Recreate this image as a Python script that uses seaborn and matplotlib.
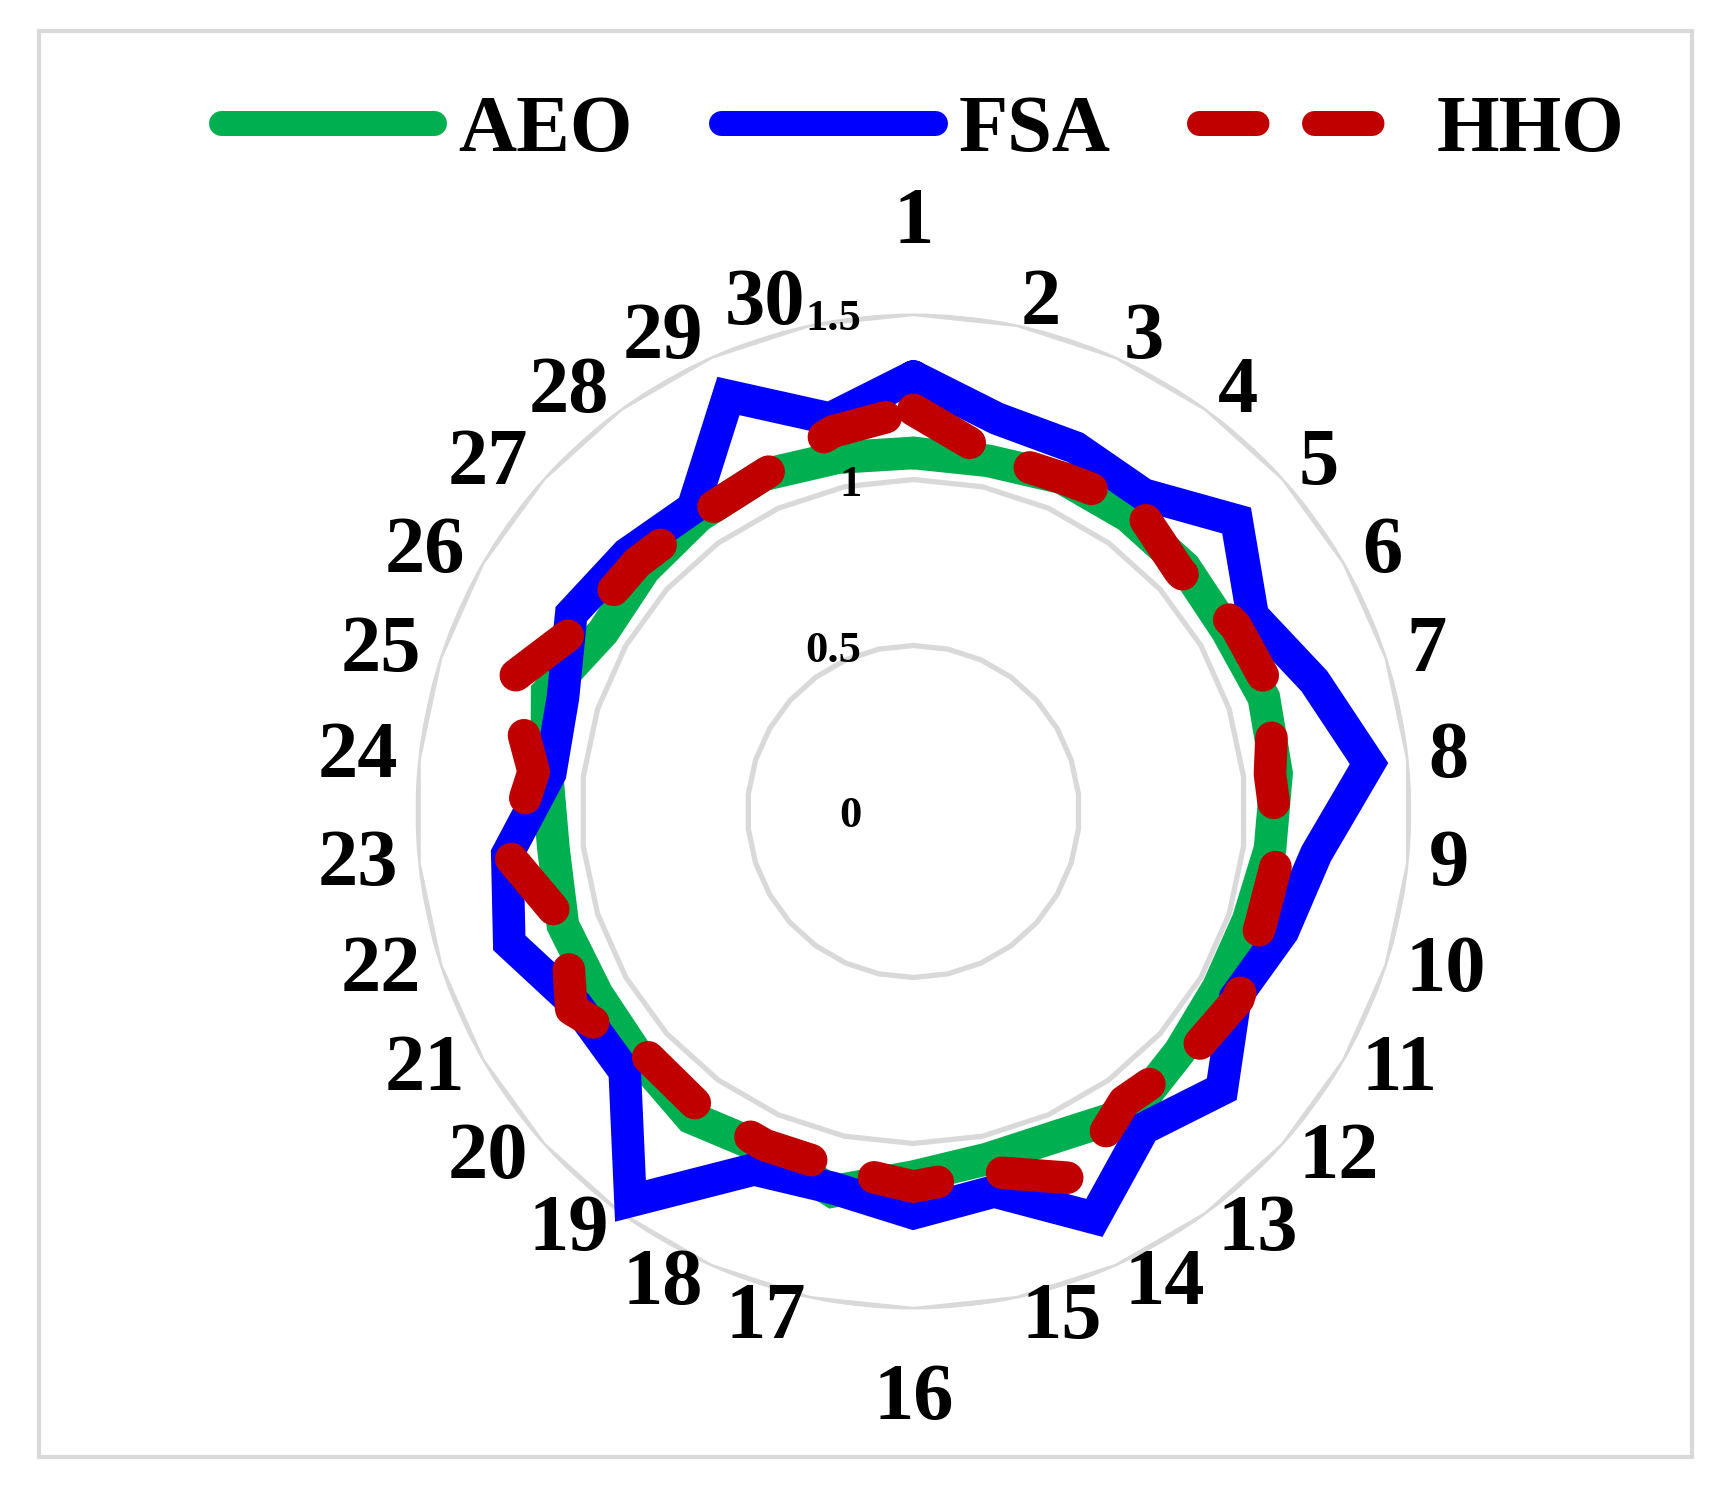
import numpy as np
import pandas as pd
import seaborn as sns
import matplotlib.pyplot as plt
from matplotlib.lines import Line2D
from matplotlib.patches import Rectangle
from matplotlib.transforms import offset_copy

# data (30 runs)
categories = [str(i) for i in range(1, 31)]
aeo = [1.08, 1.08, 1.10, 1.10, 1.10, 1.09, 1.11, 1.10, 1.08, 1.06,
       1.06, 1.08, 1.12, 1.07, 1.07, 1.10, 1.17, 1.11, 1.14, 1.11,
       1.10, 1.11, 1.09, 1.11, 1.16, 1.08, 1.09, 1.10, 1.11, 1.09]
fsa = [1.31, 1.21, 1.20, 1.18, 1.31, 1.18, 1.27, 1.38, 1.22, 1.17,
       1.12, 1.25, 1.18, 1.34, 1.17, 1.21, 1.16, 1.18, 1.45, 1.17,
       1.17, 1.28, 1.23, 1.10, 1.11, 1.19, 1.16, 1.13, 1.37, 1.21]
hho = [1.21, 1.10, 1.10, 1.14, 1.08, 1.12, 1.14, 1.08, 1.11, 1.10,
       1.13, 1.11, 1.08, 1.21, 1.11, 1.13, 1.10, 1.10, 1.10, 1.09,
       1.19, 1.10, 1.23, 1.15, 1.28, 1.14, 1.12, 1.10, 1.11, 1.17]
r_ticks = [0, 0.5, 1, 1.5]
r_tick_labels = ['0', '0.5', '1', '1.5']

names = ['AEO', 'FSA', 'HHO']
colors = ['#00B050', '#0000FF', '#C00000']
styles = ['-', '-', (0, (2, 2))]
grid_color = '#D9D9D9'

sns.set_theme(style='white')
plt.rcParams['font.family'] = ['Liberation Serif', 'DejaVu Serif']
plt.rcParams['font.weight'] = 'bold'
plt.rcParams['text.color'] = 'black'

fig = plt.figure(figsize=(17.36, 14.92), dpi=100)
ax = fig.add_axes([0.2393, 0.1223, 0.5737, 0.6676], projection='polar')
ax.set_theta_zero_location('N')
ax.set_theta_direction(-1)

n = len(categories)
angles = np.linspace(0, 2 * np.pi, n, endpoint=False)
closed = np.append(angles, 2 * np.pi)

# polygon grid instead of circles
for rt in r_ticks[1:]:
    ax.plot(closed, [rt] * (n + 1), color=grid_color, lw=3.8, zorder=1)

for name, vals, c, ls in zip(names, [aeo, fsa, hho], colors, styles):
    df = pd.DataFrame({'theta': closed, 'value': list(vals) + [vals[0]]})
    sns.lineplot(data=df, x='theta', y='value', ax=ax, color=c, lw=23.5,
                 linestyle=ls, sort=False, estimator=None,
                 dash_capstyle='round', solid_joinstyle='miter',
                 clip_on=False, zorder=3)

ax.set_ylim(0, 1.5)
ax.grid(False)
ax.spines['polar'].set_visible(False)
ax.set_xticks([])
ax.set_yticks([])
ax.set_xlabel('')
ax.set_ylabel('')

# category labels around the outside
for ang, lab in zip(angles, categories):
    s = np.sin(ang)
    if abs(s) < 0.1:
        ax.text(ang, 1.77, lab, ha='center', va='center', fontsize=58,
                fontweight='bold', color='black')
    else:
        ax.text(ang, 1.56, lab, ha='left' if s > 0 else 'right',
                va='center', fontsize=58, fontweight='bold', color='black')

# radial value labels, just left of the vertical axis
tick_tr = offset_copy(ax.transData, fig=fig, x=-52, y=-5, units='dots')
for rt, lab in zip(r_ticks, r_tick_labels):
    ax.text(0, rt, lab, transform=tick_tr, ha='right', va='center',
            fontsize=32, fontweight='bold', color='black')

handles = [Line2D([], [], color=c, lw=18, linestyle=(0, (2.3, 2.3)) if ls != '-' else '-',
                  solid_capstyle='round', dash_capstyle='round')
           for c, ls in zip(colors, styles)]
leg = fig.legend(handles, names, loc='center', bbox_to_anchor=(0.5315, 0.912), ncol=3,
                 frameon=False, handlelength=2.65, handletextpad=0.3, columnspacing=1.1,
                 prop={'size': 58, 'weight': 'bold'})
for t in leg.get_texts():
    t.set_color('black')

fig.patches.append(Rectangle((0.0225, 0.0235), 0.952, 0.9558, transform=fig.transFigure,
                             fill=False, ec=grid_color, lw=3, zorder=0))

fig.savefig('out.png', dpi=100)
